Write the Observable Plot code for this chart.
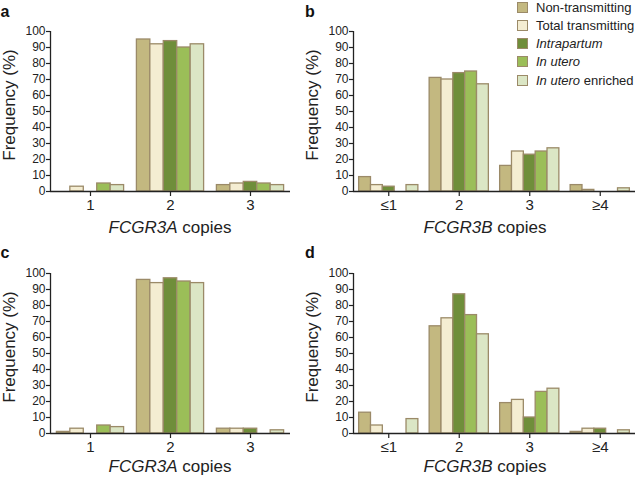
<!DOCTYPE html>
<html>
<head>
<meta charset="utf-8">
<script src="https://cdn.jsdelivr.net/npm/d3@7"></script>
<script src="https://cdn.jsdelivr.net/npm/@observablehq/plot@0.6"></script>
<style>
  html, body { margin: 0; padding: 0; background: #fff; }
  #wrap { position: relative; width: 638px; height: 482px; font-family: "Liberation Sans", Arial, sans-serif; overflow: hidden; }
  #wrap svg { position: absolute; overflow: visible; }
  .legend { position: absolute; left: 517px; top: 0px; font-size: 13px; color: #222; }
  .legend .row { position: absolute; left: 0; height: 14px; white-space: nowrap; display: flex; align-items: center; }
  .legend .sw { width: 9px; height: 9px; border: 1px solid #9b8a68; margin-right: 8px; flex: none; }
</style>
</head>
<body>
<div id="wrap"></div>
<script>
// ---- data ----
const seriesNames = ["Non-transmitting", "Total transmitting", "Intrapartum", "In utero", "In utero enriched"];
const seriesColors = ["#c3b880", "#f4edd2", "#6f8e3a", "#9bbe58", "#dbe6c5"];

const catsFCGR3A = ["1", "2", "3"];
const catsFCGR3B = ["≤1", "2", "3", "≥4"];

// rows = copy-number category, columns = series (in seriesNames order)
const valuesA = [[0, 3, 0, 5, 4], [95, 92, 94, 90, 92], [4, 5, 6, 5, 4]];
const valuesB = [[9, 4, 3, 0, 4], [71, 70, 74, 75, 67], [16, 25, 23, 25, 27], [4, 1, 0, 0, 2]];
const valuesC = [[1, 3, 0, 5, 4], [96, 94, 97, 95, 94], [3, 3, 3, 0, 2]];
const valuesD = [[13, 5, 0, 0, 9], [67, 72, 87, 74, 62], [19, 21, 10, 26, 28], [1, 3, 3, 0, 2]];

const yTicks = d3.range(0, 101, 10);

// ---- drawing ----
const wrap = document.getElementById("wrap");
const barW = 0.168;
const strokeCol = "#9b8a68";
const axisCol = "#222";

function panel({cats, values, left, top, width, height, margins, letter, letterX, gene, yTitleX, xTitleX, xTitleY}) {
  const rows = [];
  values.forEach((vals, i) => vals.forEach((v, j) => {
    if (v > 0) rows.push({x1: i - 2.5 * barW + j * barW, x2: i - 1.5 * barW + j * barW, v, series: seriesNames[j]});
  }));
  const svg = Plot.plot({
    width, height,
    marginLeft: margins[0], marginRight: margins[1], marginTop: margins[2], marginBottom: margins[3],
    style: {fontFamily: "Liberation Sans, Arial, sans-serif", color: axisCol, background: "transparent"},
    x: {domain: [-0.5, cats.length - 0.5], axis: null},
    y: {domain: [0, 100], axis: null},
    color: {domain: seriesNames, range: seriesColors},
    marks: [
      Plot.rect(rows, {x1: "x1", x2: "x2", y1: 0, y2: "v", fill: "series", stroke: strokeCol, strokeWidth: 1.3}),
      Plot.ruleX([-0.5], {y1: 0, y2: 100, stroke: axisCol, strokeWidth: 1.3}),
      Plot.ruleY([0], {stroke: axisCol, strokeWidth: 1.3}),
      Plot.axisY({ticks: yTicks, tickSize: 4, tickPadding: 1, fontSize: 12, label: null, stroke: axisCol, strokeWidth: 1.2}),
      Plot.axisX({ticks: d3.range(cats.length), tickFormat: i => cats[i], tickSize: 5, tickPadding: 3, fontSize: 15, label: null, stroke: axisCol, strokeWidth: 1.2})
    ]
  });
  svg.style.left = left + "px";
  svg.style.top = top + "px";
  const s = d3.select(svg);
  s.append("text").attr("x", 5).attr("y", 17).attr("font-size", 16).attr("font-weight", "bold")
    .attr("fill", "#111").attr("x", letterX).text(letter);
  s.append("text")
    .attr("transform", `translate(${yTitleX},${(margins[2] + height - margins[3]) / 2 - 6}) rotate(-90)`)
    .attr("text-anchor", "middle").attr("font-size", 17).attr("fill", "#222").text("Frequency (%)");
  const xt = s.append("text").attr("x", xTitleX).attr("y", xTitleY).attr("text-anchor", "middle")
    .attr("font-size", 17).attr("fill", "#222");
  xt.append("tspan").attr("font-style", "italic").text(gene);
  xt.append("tspan").text(" copies");
  wrap.appendChild(svg);
}

panel({cats: catsFCGR3A, values: valuesA, left: 0, top: 0, width: 300, height: 241, margins: [50, 10, 31, 50],
  letter: "a", letterX: 5, gene: "FCGR3A", yTitleX: 15, xTitleX: 170, xTitleY: 233});
panel({cats: catsFCGR3B, values: valuesB, left: 300, top: 0, width: 338, height: 241, margins: [53, 3, 31, 50],
  letter: "b", letterX: 10, gene: "FCGR3B", yTitleX: 18, xTitleX: 185, xTitleY: 233});
panel({cats: catsFCGR3A, values: valuesC, left: 0, top: 241, width: 300, height: 241, margins: [50, 10, 32, 49],
  letter: "c", letterX: 5, gene: "FCGR3A", yTitleX: 15, xTitleX: 170, xTitleY: 231});
panel({cats: catsFCGR3B, values: valuesD, left: 300, top: 241, width: 338, height: 241, margins: [53, 3, 32, 49],
  letter: "d", letterX: 10, gene: "FCGR3B", yTitleX: 18, xTitleX: 185, xTitleY: 231});

// ---- legend ----
const legend = document.createElement("div");
legend.className = "legend";
const legendLabels = [
  "Non-transmitting",
  "Total transmitting",
  "<i>Intrapartum</i>",
  "<i>In utero</i>",
  "<i>In utero</i> enriched"
];
seriesNames.forEach((name, j) => {
  const row = document.createElement("div");
  row.className = "row";
  row.style.top = (j * 18.3) + "px";
  row.innerHTML = `<span class="sw" style="background:${seriesColors[j]}"></span><span>${legendLabels[j]}</span>`;
  legend.appendChild(row);
});
wrap.appendChild(legend);
</script>
</body>
</html>
